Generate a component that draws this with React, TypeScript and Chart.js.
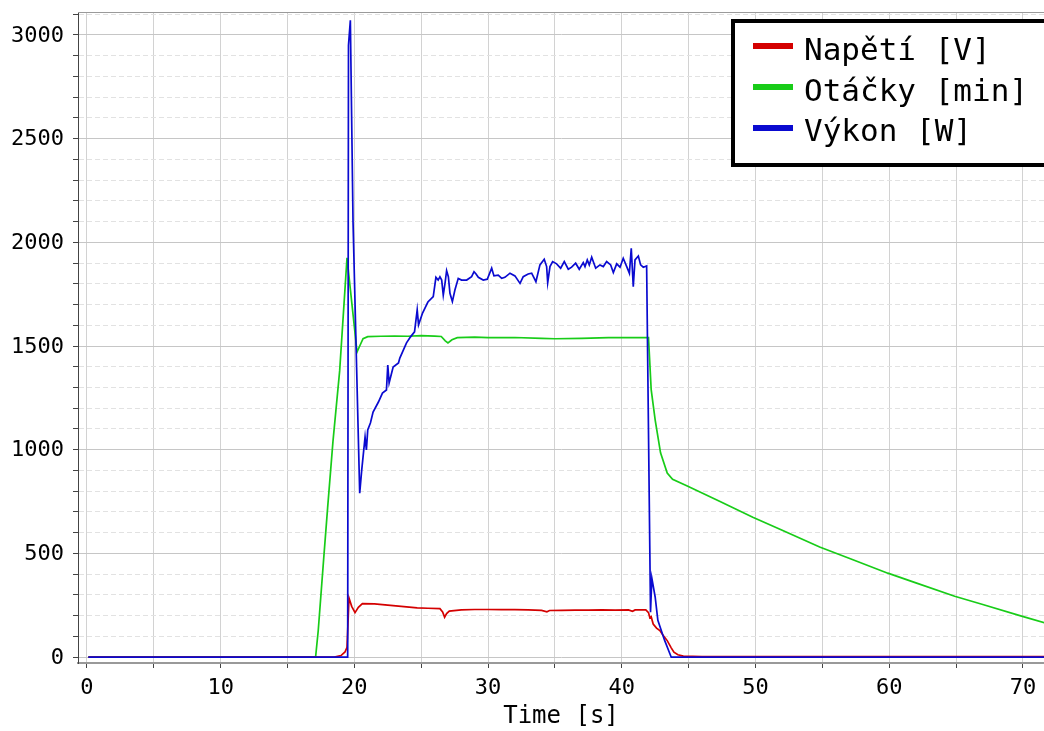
import { useEffect, useRef } from "react";
import { Chart, registerables } from "chart.js";

Chart.register(...registerables);

// Napětí [V]
const napetiT = [0.1, 18.5, 19.0, 19.3, 19.45, 19.6, 19.8, 20.05, 20.3, 20.6, 21.5, 22.5, 23.5, 24.7, 25.5, 26.4, 26.6, 26.75, 26.9, 27.1, 28, 29, 30, 31, 32, 33, 34, 34.4, 34.6, 35.5, 36.5, 37.5, 38.5, 39.5, 40.5, 40.8, 41.0, 41.8, 42.0, 42.1, 42.2, 42.35, 42.6, 42.85, 43.1, 43.4, 43.7, 43.9, 44.2, 44.6, 46, 71.7];
const napetiV = [0, 1, 8, 25, 48, 285, 245, 215, 240, 258, 257, 251, 245, 238, 236, 234, 218, 193, 210, 222, 228, 230, 230, 229, 229, 228, 226, 219, 225, 226, 227, 227, 228, 227, 228, 221, 228, 228, 215, 190, 195, 160, 140, 128, 105, 80, 45, 24, 12, 5, 3, 3];

// Otáčky [min]
const otackyT = [0.1, 17.1, 17.3, 17.7, 18.0, 18.4, 18.9, 19.45, 20.2, 20.4, 20.65, 21.0, 22, 23, 24, 25, 26, 26.5, 26.8, 27.0, 27.3, 27.7, 29, 30, 32, 34, 35, 37, 39, 41, 42.0, 42.2, 42.5, 42.9, 43.4, 43.8, 44.9, 47.35, 49.8, 52, 54.8, 57, 59.9, 62, 64.9, 67, 69.9, 71.7];
const otackyV = [0, 0, 130, 470, 720, 1040, 1380, 1925, 1471, 1500, 1535, 1545, 1547, 1548, 1547, 1550, 1548, 1546, 1525, 1515, 1530, 1540, 1543, 1540, 1541, 1537, 1535, 1537, 1540, 1541, 1540, 1290, 1143, 985, 888, 858, 825, 750, 675, 612, 531, 477, 405, 358, 294, 254, 198, 164];

// Výkon [W]
const vykonT = [
  0.1, 19.5, 19.56, 19.7, 19.9, 20.4, 20.55, 20.8, 20.9, 21.0,
  21.2, 21.4, 21.8, 22.1, 22.4, 22.5, 22.6, 22.9, 23.3, 23.4,
  23.9, 24.2, 24.5, 24.7, 24.8, 25.1, 25.5, 25.9, 26.1, 26.27,
  26.4, 26.53, 26.65, 26.78, 26.9, 27.03, 27.15, 27.33, 27.52, 27.77,
  28.02, 28.4, 28.77, 28.95, 29.1, 29.27, 29.64, 29.94, 30.27, 30.44,
  30.76, 31.02, 31.26, 31.64, 32.01, 32.39, 32.63, 33.0, 33.26, 33.58,
  33.88, 34.2, 34.38, 34.46, 34.63, 34.83, 35.13, 35.43, 35.7, 36.0,
  36.25, 36.55, 36.82, 37.12, 37.25, 37.42, 37.57, 37.75, 38.05, 38.37,
  38.62, 38.87, 39.17, 39.37, 39.62, 39.87, 40.11, 40.37, 40.57, 40.71,
  40.86, 40.99, 41.24, 41.41, 41.61, 41.86, 42.15, 42.25, 42.5, 42.7,
  43.2, 43.7, 71.7,
];
const vykonV = [
  0, 0, 2950, 3070, 2100, 790, 902, 1061, 999, 1095,
  1129, 1182, 1230, 1273, 1288, 1408, 1322, 1399, 1418, 1442,
  1515, 1544, 1568, 1674, 1602, 1659, 1712, 1738, 1831, 1818,
  1834, 1818, 1746, 1802, 1863, 1834, 1754, 1714, 1770, 1826,
  1818, 1818, 1834, 1858, 1847, 1831, 1818, 1822, 1875, 1838,
  1842, 1826, 1831, 1851, 1838, 1802, 1834, 1847, 1851, 1810,
  1891, 1918, 1883, 1805, 1883, 1907, 1896, 1875, 1907, 1870,
  1880, 1899, 1870, 1902, 1883, 1915, 1891, 1928, 1875, 1891,
  1883, 1907, 1891, 1854, 1896, 1880, 1923, 1883, 1851, 1971,
  1786, 1915, 1934, 1891, 1880, 1886, 217, 381, 289, 178,
  82, 0, 0,
];

const seriesLabels = ["Napětí [V]", "Otáčky [min]", "Výkon [W]"];
const seriesColors = ["#d40000", "#18cc18", "#0a0ad0"];
const xTitle = "Time [s]";

const X_MIN = -0.67;
const X_MAX = 71.58;
const Y_MIN = -28;
const Y_MAX = 3110;

const FONT = "'DejaVu Sans Mono', monospace";

export default function App() {
  const ref = useRef<HTMLCanvasElement>(null);

  useEffect(() => {
    document.body.style.margin = "0";
    const canvas = ref.current;
    if (!canvas) return;

    const pts = (t: number[], v: number[]) => t.map((x, i) => ({ x, y: v[i] }));

    const boxLegend = {
      id: "boxLegend",
      afterDraw(chart: any) {
        const ctx = chart.ctx as CanvasRenderingContext2D;
        const ca = chart.chartArea;
        ctx.save();
        ctx.strokeStyle = "#9a9a9a";
        ctx.lineWidth = 1;
        ctx.beginPath();
        ctx.moveTo(ca.left, ca.top + 0.5);
        ctx.lineTo(ca.right, ca.top + 0.5);
        ctx.stroke();

        ctx.fillStyle = "#ffffff";
        ctx.fillRect(733, 21, 330, 144);
        ctx.strokeStyle = "#000000";
        ctx.lineWidth = 4;
        ctx.strokeRect(733, 21, 330, 144);

        const lineYs = [46, 87, 128];
        const baseYs = [60, 101, 141];
        ctx.font = `31px ${FONT}`;
        ctx.textBaseline = "alphabetic";
        ctx.textAlign = "left";
        seriesLabels.forEach((lab, i) => {
          ctx.strokeStyle = seriesColors[i];
          ctx.lineWidth = 6;
          ctx.beginPath();
          ctx.moveTo(753, lineYs[i]);
          ctx.lineTo(793, lineYs[i]);
          ctx.stroke();
          ctx.fillStyle = "#000000";
          ctx.fillText(lab, 804, baseYs[i]);
        });
        ctx.restore();
      },
    };

    const chart = new Chart(canvas, {
      type: "line",
      data: {
        datasets: [
          { label: seriesLabels[0], data: pts(napetiT, napetiV), borderColor: seriesColors[0], order: 2 },
          { label: seriesLabels[1], data: pts(otackyT, otackyV), borderColor: seriesColors[1], order: 3 },
          { label: seriesLabels[2], data: pts(vykonT, vykonV), borderColor: seriesColors[2], order: 1 },
        ],
      },
      options: {
        animation: false,
        responsive: false,
        maintainAspectRatio: false,
        layout: { padding: { top: 12, left: 0, right: 0, bottom: 0 } },
        elements: {
          point: { radius: 0 },
          line: { borderWidth: 1.7, tension: 0 },
        },
        plugins: {
          legend: { display: false },
          tooltip: { enabled: false },
          title: { display: false },
        },
        scales: {
          x: {
            type: "linear",
            min: X_MIN,
            max: X_MAX,
            afterFit: (s: any) => {
              s.height = 68;
              s.paddingLeft = 0;
              s.paddingRight = 0;
            },
            ticks: {
              stepSize: 5,
              includeBounds: false,
              autoSkip: false,
              maxRotation: 0,
              padding: 7,
              color: "#000",
              font: { family: FONT, size: 22 },
              callback: (v: any) => (Number(v) % 10 === 0 ? String(v) : ""),
            },
            grid: {
              color: "#d2d2d2",
              lineWidth: 1,
              tickLength: 5,
              tickColor: "#444",
            },
            border: { color: "#999", width: 2 },
            title: {
              display: true,
              text: xTitle,
              color: "#000",
              font: { family: FONT, size: 24 },
              padding: { top: 0, bottom: 0 },
            },
          },
          y: {
            type: "linear",
            min: Y_MIN,
            max: Y_MAX,
            afterFit: (s: any) => {
              s.width = 78;
              s.paddingTop = 0;
              s.paddingBottom = 0;
            },
            ticks: {
              stepSize: 100,
              includeBounds: false,
              autoSkip: false,
              padding: 9,
              labelOffset: 1,
              color: "#000",
              font: { family: FONT, size: 22 },
              callback: (v: any) => (Number(v) % 500 === 0 ? String(v) : ""),
            },
            grid: {
              color: (c: any) => (c.tick && c.tick.value % 500 === 0 ? "#c6c6c6" : "#e2e2e2"),
              lineWidth: 1,
              tickLength: 5,
              tickColor: "#444",
            },
            border: {
              color: "#444",
              width: 1,
              dash: (c: any) => (c.tick && c.tick.value % 500 !== 0 ? [5, 3] : []),
            },
          },
        },
      },
      plugins: [boxLegend],
    } as any);

    return () => chart.destroy();
  }, []);

  return (
    <div style={{ position: "fixed", left: 0, top: 0, width: 1044, height: 731, background: "#fff" }}>
      <canvas ref={ref} width={1044} height={731} style={{ display: "block" }} />
    </div>
  );
}
